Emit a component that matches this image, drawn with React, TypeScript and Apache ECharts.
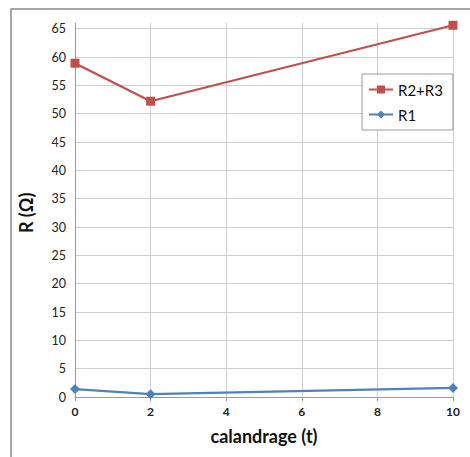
import React, { useEffect, useRef } from "react";
import * as echarts from "echarts";

const xValues = [0, 2, 10];
const r2r3 = [58.9, 52.2, 65.6];
const r1 = [1.4, 0.5, 1.6];
const yTicks = [0, 5, 10, 15, 20, 25, 30, 35, 40, 45, 50, 55, 60, 65];

export default function App() {
  const ref = useRef<HTMLDivElement>(null);
  useEffect(() => {
    const chart = echarts.init(ref.current!, undefined, { renderer: "svg" });
    const font = "Lato, 'Open Sans', sans-serif";
    const grid = { left: 75, right: 17, bottom: 60 };
    chart.setOption({
      animation: false,
      backgroundColor: "#fff",
      textStyle: { fontFamily: font },
      graphic: [
        {
          type: "rect",
          shape: { x: 11, y: 9, width: 480, height: 470 },
          style: { fill: "none", stroke: "#8a8a8a", lineWidth: 1.5 },
          silent: true,
          z: -10,
        },
      ],
      grid: [
        { ...grid, top: 23 },
        { ...grid, top: 23 + 374 / 66 },
      ],
      legend: {
        orient: "vertical",
        left: 362,
        top: 74,
        padding: [8, 10, 8, 6],
        itemGap: 10,
        itemWidth: 24,
        itemHeight: 10,
        backgroundColor: "#fff",
        borderColor: "#9a9a9a",
        borderWidth: 1,
        textStyle: { fontSize: 15, color: "#111", fontFamily: font },
        data: ["R2+R3", "R1"],
      },
      xAxis: [
        {
          gridIndex: 0,
          type: "value",
          min: 0,
          max: 10,
          interval: 2,
          axisLine: { show: true, lineStyle: { color: "#9a9a9a", width: 1 } },
          axisTick: { show: true, length: 4, lineStyle: { color: "#9a9a9a" } },
          axisLabel: { fontSize: 12, fontWeight: "bold", color: "#222", margin: 8 },
          splitLine: { show: true, lineStyle: { color: "#cfcfcf", width: 1 } },
          name: "calandrage (t)",
          nameLocation: "middle",
          nameGap: 30,
          nameTextStyle: { fontSize: 18, fontWeight: "bold", color: "#111" },
        },
        {
          gridIndex: 1,
          type: "value",
          min: 0,
          max: 10,
          show: false,
        },
      ],
      yAxis: [
        {
          gridIndex: 0,
          type: "value",
          min: 0,
          max: 66,
          axisLine: { show: true, lineStyle: { color: "#9a9a9a", width: 1 } },
          axisTick: { show: false },
          axisLabel: { show: false },
          splitLine: { show: false },
        },
        {
          gridIndex: 1,
          type: "value",
          min: yTicks[0],
          max: yTicks[yTicks.length - 1],
          interval: 5,
          axisLine: { show: false },
          axisTick: { show: false },
          axisLabel: { fontSize: 12.5, color: "#222", margin: 9 },
          splitLine: { show: true, lineStyle: { color: "#cfcfcf", width: 1 } },
          name: "R (Ω)",
          nameLocation: "middle",
          nameGap: 40,
          nameRotate: 90,
          nameTextStyle: { fontSize: 18, fontWeight: "bold", color: "#111" },
        },
      ],
      series: [
        {
          name: "R2+R3",
          type: "line",
          xAxisIndex: 0,
          yAxisIndex: 0,
          data: xValues.map((x, i) => [x, r2r3[i]]),
          symbol: "rect",
          symbolSize: 9,
          clip: false,
          itemStyle: { color: "#C0504D" },
          lineStyle: { color: "#C0504D", width: 2.2 },
        },
        {
          name: "R1",
          type: "line",
          xAxisIndex: 0,
          yAxisIndex: 0,
          data: xValues.map((x, i) => [x, r1[i]]),
          symbol: "diamond",
          symbolSize: 10,
          clip: false,
          itemStyle: { color: "#4F81BD" },
          lineStyle: { color: "#4F81BD", width: 2.2 },
        },
      ],
    });
    return () => chart.dispose();
  }, []);
  return <div ref={ref} style={{ width: 470, height: 457, position: "absolute", left: 0, top: 0 }} />;
}
